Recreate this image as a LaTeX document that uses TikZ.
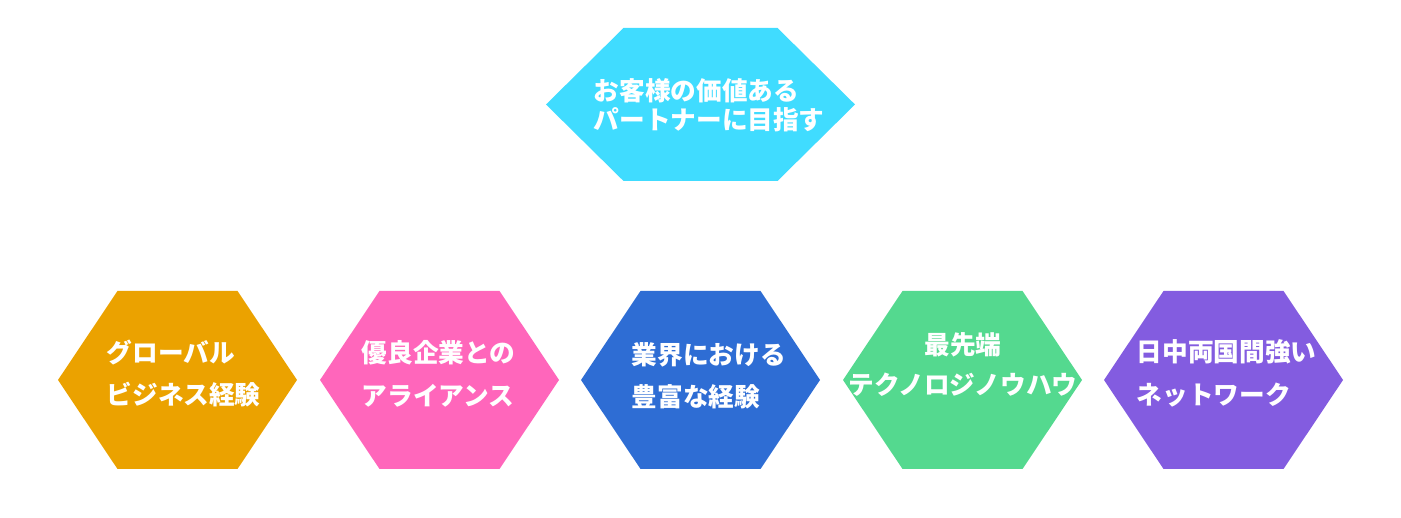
\documentclass[tikz,border=0pt]{standalone}
\usepackage{fontspec}
\usepackage{tikz}
\usetikzlibrary{calc}
\newfontfamily\jpfont{Noto Sans CJK JP}
\definecolor{topcyan}{RGB}{64,220,255}
\definecolor{hexorange}{RGB}{235,162,0}
\definecolor{hexpink}{RGB}{255,102,187}
\definecolor{hexblue}{RGB}{46,109,212}
\definecolor{hexgreen}{RGB}{84,217,143}
\definecolor{hexpurple}{RGB}{131,92,224}
\tikzset{
  hexlabel/.style={text=white, inner sep=0pt, align=left, font=\jpfont\bfseries\fontsize{7.3pt}{#1}\selectfont},
  hexlabel/.default=12.2pt
}

\begin{document}
\begin{tikzpicture}
  \useasboundingbox (0, 0) rectangle (14.01, 5.18);
% goal
  \fill[topcyan] (7.005, 4.135) ++(-1.545, 0) -- ++(0.775, 0.765) -- ++(1.54, 0)
    -- ++(0.775, -0.765) -- ++(-0.775, -0.765) -- ++(-1.54, 0) -- cycle;
  \draw (5.93, 4.13) node[hexlabel=8.2pt, anchor=west] (goal) {お客様の価値ある\\パートナーに目指す};

% strengths
  \foreach \x/\c in {1.775/hexorange, 4.395/hexpink, 7.005/hexblue, 9.625/hexgreen, 12.235/hexpurple}{
    \fill[\c] (\x, 1.38) ++(-1.195, 0) -- ++(0.595, 0.89) -- ++(1.2, 0)
      -- ++(0.595, -0.89) -- ++(-0.595, -0.89) -- ++(-1.2, 0) -- cycle;
  }
  \draw (1.06, 1.445) node[hexlabel, anchor=west] (global) {グローバル\\ビジネス経験};
  \draw (3.61, 1.445) node[hexlabel, anchor=west] (alliance) {優良企業との\\アライアンス};
  \draw (6.31, 1.42) node[hexlabel=11.9pt, anchor=west] (industry) {業界における\\豊富な経験};
  \draw (9.63, 1.53) node[hexlabel=11.4pt, align=center] (tech) {最先端\\テクノロジノウハウ};
  \draw (11.36, 1.445) node[hexlabel, anchor=west] (network) {日中両国間強い\\ネットワーク};
\end{tikzpicture}
\end{document}
